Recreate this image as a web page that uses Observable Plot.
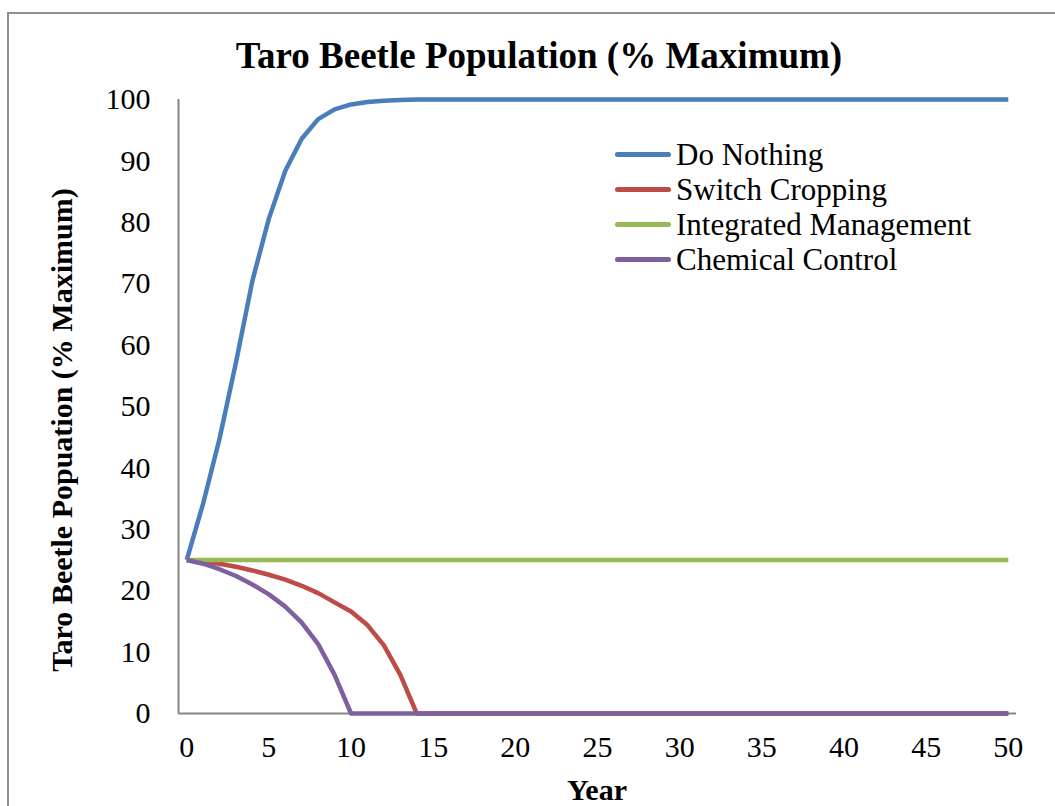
<!DOCTYPE html>
<html>
<head>
<meta charset="utf-8">
<script src="https://cdn.jsdelivr.net/npm/d3@7"></script>
<script src="https://cdn.jsdelivr.net/npm/@observablehq/plot@0.6"></script>
<style>
  html, body { margin: 0; padding: 0; background: #fff; overflow: hidden; }
  #wrap { position: relative; width: 1055px; height: 806px; overflow: hidden; font-family: "Liberation Serif", serif; }
  #border { position: absolute; left: 7px; top: 12px; width: 1200px; height: 1000px; border: 2px solid #8e8e8e; box-sizing: border-box; }
  #chart { position: absolute; left: 0; top: 0; }
  #title { position: absolute; left: 0; width: 1078px; top: 34px; text-align: center; font-weight: bold; font-size: 37px; color: #000; }
  #ytitle { position: absolute; left: 62px; top: 430px; transform: translate(-50%, -50%) rotate(-90deg); white-space: nowrap; font-weight: bold; font-size: 30px; }
  #xtitle { position: absolute; left: 597px; top: 775px; transform: translateX(-50%); font-weight: bold; font-size: 30px; line-height: 1; }
  #legend { position: absolute; left: 615px; top: 137px; }
  .item { display: flex; align-items: center; height: 35px; font-size: 31px; }
  .sw { width: 56px; height: 5px; border-radius: 3px; margin-right: 5px; }
</style>
</head>
<body>
<div id="wrap">
  <div id="border"></div>
  <div id="chart"></div>
  <div id="title">Taro Beetle Population (% Maximum)</div>
  <div id="ytitle">Taro Beetle Popuation (% Maximum)</div>
  <div id="xtitle">Year</div>
  <div id="legend"></div>
</div>
<script>
const years = [0,1,2,3,4,5,6,7,8,9,10,11,12,13,14,15,16,17,18,19,20,21,22,23,24,25,26,27,28,29,30,31,32,33,34,35,36,37,38,39,40,41,42,43,44,45,46,47,48,49,50];
const doNothing = [25,34.2,44.8,57.2,70.5,80.6,88.4,93.6,96.8,98.4,99.2,99.6,99.8,99.9,100,100,100,100,100,100,100,100,100,100,100,100,100,100,100,100,100,100,100,100,100,100,100,100,100,100,100,100,100,100,100,100,100,100,100,100,100];
const switchCropping = [25,24.8,24.4,23.9,23.3,22.6,21.8,20.8,19.6,18.1,16.6,14.4,11.1,6.3,0,0,0,0,0,0,0,0,0,0,0,0,0,0,0,0,0,0,0,0,0,0,0,0,0,0,0,0,0,0,0,0,0,0,0,0,0];
const integrated = [25,25,25,25,25,25,25,25,25,25,25,25,25,25,25,25,25,25,25,25,25,25,25,25,25,25,25,25,25,25,25,25,25,25,25,25,25,25,25,25,25,25,25,25,25,25,25,25,25,25,25];
const chemical = [25,24.4,23.5,22.4,21.0,19.4,17.4,14.8,11.3,6.3,0,0,0,0,0,0,0,0,0,0,0,0,0,0,0,0,0,0,0,0,0,0,0,0,0,0,0,0,0,0,0,0,0,0,0,0,0,0,0,0,0];
const seriesNames = ["Do Nothing","Switch Cropping","Integrated Management","Chemical Control"];
const seriesColors = ["#4a7ebb","#be4b48","#98b954","#7d60a0"];
const xTicks = [0,5,10,15,20,25,30,35,40,45,50];
const yTicks = [0,10,20,30,40,50,60,70,80,90,100];

const allSeries = [doNothing, switchCropping, integrated, chemical];
const rows = [];
allSeries.forEach((vals, si) => vals.forEach((v, i) => rows.push({year: years[i], value: v, series: seriesNames[si]})));

const chart = Plot.plot({
  width: 1055,
  height: 806,
  marginLeft: 178,
  marginRight: 39,
  marginTop: 99,
  marginBottom: 93,
  style: {fontFamily: "Liberation Serif, serif", fontSize: "30px", color: "#000", background: "transparent"},
  x: {domain: [-0.5, 50.5]},
  y: {domain: [0, 100]},
  color: {domain: seriesNames, range: seriesColors},
  marks: [
    Plot.axisX({ticks: xTicks, tickSize: 0, tickPadding: 22, label: null, fill: "#000"}),
    Plot.axisY({ticks: yTicks, tickSize: 0, tickPadding: 28, label: null, fill: "#000"}),
    Plot.ruleX([-0.5], {y1: 0, y2: 100, stroke: "#868686", strokeWidth: 2}),
    Plot.ruleY([0], {x1: -0.5, x2: 50.5, stroke: "#868686", strokeWidth: 2}),
    ...seriesNames.map(name => Plot.line(rows.filter(d => d.series === name), {
      x: "year", y: "value", stroke: "series", strokeWidth: 4.5, strokeLinejoin: "round", strokeLinecap: "butt"
    }))
  ]
});
document.getElementById("chart").appendChild(chart);

const legend = document.getElementById("legend");
seriesNames.forEach((name, i) => {
  const item = document.createElement("div");
  item.className = "item";
  const sw = document.createElement("div");
  sw.className = "sw";
  sw.style.background = seriesColors[i];
  const t = document.createElement("span");
  t.textContent = name;
  item.appendChild(sw);
  item.appendChild(t);
  legend.appendChild(item);
});
</script>
</body>
</html>
